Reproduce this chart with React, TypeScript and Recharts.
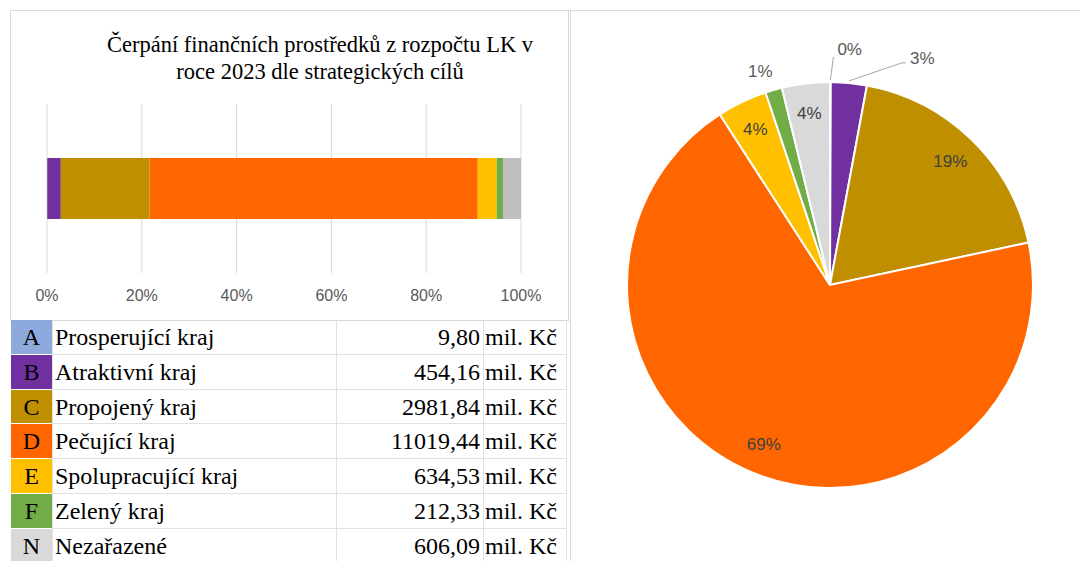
import { Bar, BarChart, CartesianGrid, Cell, Pie, PieChart, XAxis, YAxis } from "recharts";

const codes = ["A", "B", "C", "D", "E", "F", "N"];
const names = [
  "Prosperující kraj",
  "Atraktivní kraj",
  "Propojený kraj",
  "Pečující kraj",
  "Spolupracující kraj",
  "Zelený kraj",
  "Nezařazené",
];
const amounts = [9.8, 454.16, 2981.84, 11019.44, 634.53, 212.33, 606.09];
const percentTicks = [0, 0.2, 0.4, 0.6, 0.8, 1];

const cellColors = ["#8EA9DB", "#7030A0", "#BF8F00", "#FF6600", "#FFC000", "#70AD47", "#D9D9D9"];
const barColors = ["#8EA9DB", "#7030A0", "#BF8F00", "#FF6600", "#FFC000", "#70AD47", "#BFBFBF"];

const barRow = [
  { year: "2023", ...Object.fromEntries(codes.map((c, i) => [c, amounts[i]])) },
];
const pieData = codes.map((c, i) => ({ code: c, value: amounts[i] }));

const RAD = Math.PI / 180;
const sans = "'Liberation Sans', Arial, sans-serif";
const serif = "'Liberation Serif', 'Times New Roman', serif";
const gridColor = "#D9D9D9";

function formatKc(v: number) {
  return v.toFixed(2).replace(".", ",");
}

function PieLabel(props: any) {
  const { cx, cy, midAngle, outerRadius, percent, index } = props;
  const text = `${Math.round(percent * 100)}%`;
  const cos = Math.cos(-midAngle * RAD);
  const sin = Math.sin(-midAngle * RAD);
  if (percent >= 0.035) {
    const r = outerRadius * 0.85;
    return (
      <text x={cx + r * cos} y={cy + r * sin} textAnchor="middle" dominantBaseline="central"
        fill="#404040" fontSize={17} fontFamily={sans}>
        {text}
      </text>
    );
  }
  const ex = cx + outerRadius * cos;
  const ey = cy + outerRadius * sin;
  if (midAngle > 0) {
    // small slices right of the top get a leader line
    const lx = index === 0 ? ex + 3 : ex + 53;
    const ly = index === 0 ? ey - 25 : ey - 20;
    const tail = index === 0 ? 0 : 4;
    return (
      <g>
        <polyline points={`${ex},${ey - 2} ${lx},${ly} ${lx + tail},${ly}`} fill="none" stroke="#A6A6A6" strokeWidth={1} />
        <text x={lx + tail + 4} y={ly - (index === 0 ? 8 : 4)} textAnchor="start" dominantBaseline="central"
          fill="#595959" fontSize={17} fontFamily={sans}>
          {text}
        </text>
      </g>
    );
  }
  const r = outerRadius + 19;
  return (
    <text x={cx + r * cos - 8} y={cy + r * sin} textAnchor="middle" dominantBaseline="central"
      fill="#595959" fontSize={17} fontFamily={sans}>
      {text}
    </text>
  );
}

const ROW_H = 34.8;

export default function App() {
  return (
    <div style={{ position: "absolute", left: 0, top: 0, width: 1080, height: 561, overflow: "hidden", background: "#fff" }}>
      {/* top frame line */}
      <div style={{ position: "absolute", left: 10, top: 10, width: 1070, height: 1, background: gridColor }} />
      {/* left chart box */}
      <div style={{ position: "absolute", left: 10, top: 10, width: 557, height: 309, border: `1px solid ${gridColor}` }} />
      {/* right chart box */}
      <div style={{ position: "absolute", left: 570, top: 10, width: 1, height: 551, background: gridColor }} />

      <div style={{
        position: "absolute", left: 0, top: 31, width: 640, textAlign: "center",
        fontFamily: serif, fontSize: 22.5, lineHeight: "27px", color: "#000",
      }}>
        Čerpání finančních prostředků z rozpočtu LK v<br />roce 2023 dle strategických cílů
      </div>

      <div style={{ position: "absolute", left: 0, top: 0 }}>
        <BarChart width={567} height={320} data={barRow} layout="vertical" stackOffset="expand"
          margin={{ top: 104, right: 46, left: 47, bottom: 17 }}>
          <CartesianGrid horizontal={false} stroke={gridColor} />
          <XAxis type="number" domain={[0, 1]} ticks={percentTicks} height={30}
            axisLine={false} tickLine={false} tickSize={0} tickMargin={17}
            tick={{ fill: "#595959", fontSize: 16, fontFamily: sans }}
            tickFormatter={(v: number) => `${Math.round(v * 100)}%`} />
          <YAxis type="category" dataKey="year" hide />
          {codes.map((c, i) => (
            <Bar key={c} dataKey={c} stackId="s" fill={barColors[i]} barSize={61} isAnimationActive={false} />
          ))}
        </BarChart>
      </div>

      {/* table */}
      {codes.map((c, i) => {
        const top = 320 + i * ROW_H;
        return (
          <div key={c} style={{ position: "absolute", left: 11, top, width: 556, height: ROW_H, fontFamily: serif, fontSize: 24, color: "#000" }}>
            <div style={{ position: "absolute", left: 0, top: 0, width: 41, height: ROW_H - 1, background: cellColors[i], textAlign: "center", lineHeight: `${ROW_H}px` }}>{c}</div>
            <div style={{ position: "absolute", left: 44, top: 0, lineHeight: `${ROW_H}px`, whiteSpace: "nowrap" }}>{names[i]}</div>
            <div style={{ position: "absolute", left: 326, top: 0, width: 143, textAlign: "right", lineHeight: `${ROW_H}px` }}>{formatKc(amounts[i])}</div>
            <div style={{ position: "absolute", left: 474, top: 0, lineHeight: `${ROW_H}px`, whiteSpace: "nowrap" }}>mil. Kč</div>
            <div style={{ position: "absolute", left: 41, top: ROW_H - 1, width: 515, height: 1, background: "#E1E1E1" }} />
            <div style={{ position: "absolute", left: 0, top: ROW_H - 1, width: 41, height: 1, background: "#fff" }} />
            <div style={{ position: "absolute", left: 41, top: 0, width: 1, height: ROW_H, background: "#E1E1E1" }} />
            <div style={{ position: "absolute", left: 325, top: 0, width: 1, height: ROW_H, background: "#E1E1E1" }} />
            <div style={{ position: "absolute", left: 472, top: 0, width: 1, height: ROW_H, background: "#E1E1E1" }} />
            <div style={{ position: "absolute", left: 555, top: 0, width: 1, height: ROW_H, background: "#E1E1E1" }} />
          </div>
        );
      })}

      <div style={{ position: "absolute", left: 570, top: 10 }}>
        <PieChart width={510} height={551} margin={{ top: 0, right: 0, bottom: 0, left: 0 }}>
          <Pie data={pieData} dataKey="value" nameKey="code" cx={260} cy={275} outerRadius={203}
            startAngle={90} endAngle={-270} stroke="#fff" strokeWidth={2}
            label={PieLabel} labelLine={false} isAnimationActive={false}>
            {pieData.map((d, i) => (
              <Cell key={d.code} fill={cellColors[i]} />
            ))}
          </Pie>
        </PieChart>
      </div>
    </div>
  );
}
